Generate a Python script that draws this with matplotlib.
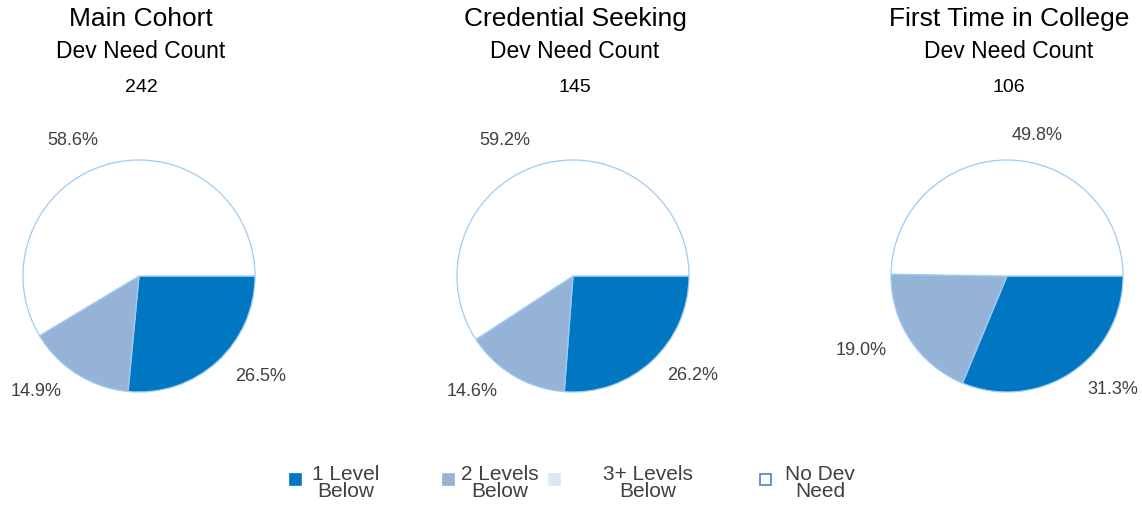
import matplotlib.pyplot as plt
from matplotlib.patches import Rectangle

plt.rcParams["font.family"] = ["Liberation Sans", "DejaVu Sans"]

TITLES = ["Main Cohort", "Credential Seeking", "First Time in College"]
COUNTS = [242, 145, 106]
CATEGORIES = ["1 Level\nBelow", "2 Levels\nBelow", "3+ Levels\nBelow", "No Dev\nNeed"]
MAIN_COHORT = [26.5, 14.9, 0.0, 58.6]
CREDENTIAL = [26.2, 14.6, 0.0, 59.2]
FTIC = [31.3, 19.0, 0.0, 49.8]

COLORS = ["#0077c0", "#95b3d7", "#dce6f2", "white"]
EDGE = "#9fcbf5"
W, H = 1142, 506

# where the source put each percentage label (pie radius units)
LABEL_XY = [
    [(1.05, -0.86), (-0.89, -0.99), None, (-0.57, 1.18)],
    [(1.03, -0.85), (-0.87, -0.99), None, (-0.59, 1.18)],
    [(0.91, -0.97), (-1.26, -0.63), None, (0.26, 1.22)],
]


def pct_label(p):
    return f"{p:.1f}%" if p > 0.5 else ""


fig = plt.figure(figsize=(W / 100, H / 100), dpi=100)

lefts = [23, 457, 891]
for left, title, count, values, label_xy in zip(
        lefts, TITLES, COUNTS, [MAIN_COHORT, CREDENTIAL, FTIC], LABEL_XY):
    ax = fig.add_axes([left / W, 113 / H, 232 / W, 232 / H])
    wedges, _, autotexts = ax.pie(
        values,
        colors=COLORS,
        startangle=0,
        counterclock=False,
        autopct=pct_label,
        pctdistance=1.33,
        wedgeprops=dict(edgecolor=EDGE, linewidth=0.9),
        textprops=dict(fontsize=13, color="#404040"),
    )
    for txt, xy in zip(autotexts, label_xy):
        if xy is not None:
            txt.set_position(xy)
    ax.set_xlim(-1, 1)
    ax.set_ylim(-1, 1)
    ax.set_aspect("equal")
    ax.axis("off")
    cx = (left + 118) / W
    fig.text(cx, 1 - 19 / H, title, ha="center", va="center", fontsize=19)
    fig.text(cx, 1 - 51 / H, "Dev Need Count", ha="center", va="center",
             fontsize=16.5)
    fig.text(cx, 1 - 88 / H, str(count), ha="center", va="center",
             fontsize=14)

# legend laid out by hand to mimic the source
key_x = [295, 448, 554, 765]
text_x = [346, 500, 648, 820]
for kx, tx, label, color in zip(key_x, text_x, CATEGORIES, COLORS):
    ec = "#4f81bd" if color == "white" else color
    fig.patches.append(Rectangle(((kx - 5.5) / W, 1 - 485.5 / H), 11 / W, 11 / H,
                                 facecolor=color, edgecolor=ec, linewidth=1.2,
                                 transform=fig.transFigure))
    fig.text(tx / W, 1 - 483 / H, label, ha="center", va="center",
             fontsize=15, color="#404040", linespacing=0.88)

fig.savefig("out.png", dpi=100, facecolor="white")
